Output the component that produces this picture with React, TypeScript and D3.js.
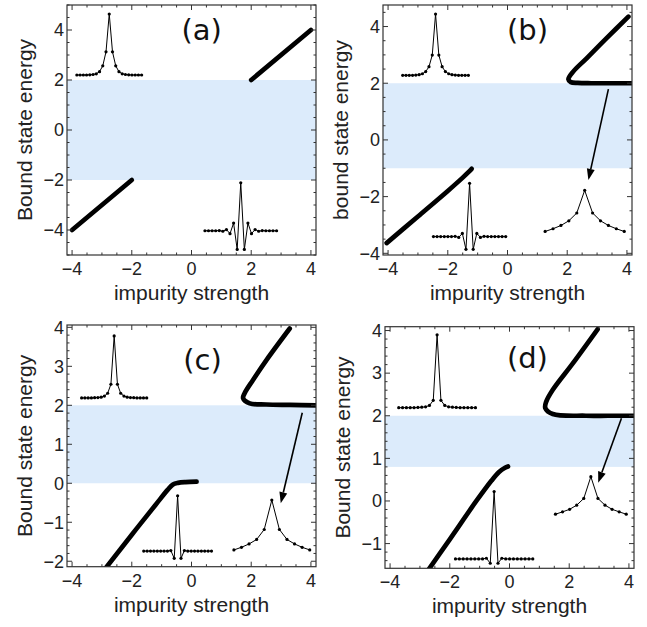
import * as d3 from 'd3';

// ---- data ----
const xMajor = [-4, -2, 0, 2, 4];
const yMajorAB = [-4, -2, 0, 2, 4];
const yMajorC = [-2, -1, 0, 1, 2, 3, 4];
const yMajorD = [-1, 0, 1, 2, 3, 4];

// continuum bands [lower, upper]
const bandA = [-2, 2];
const bandB = [-1, 2];
const bandC = [0, 2];
const bandD = [0.8, 2];

// bound state branches
const aLowX = [-4, -2];
const aLowY = [-4, -2];
const aUpX = [2, 4];
const aUpY = [2, 4];

const bLowX = [-4.05, -3, -2, -1.5, -1.3, -1.2];
const bLowY = [-3.64, -2.7, -1.8, -1.33, -1.13, -1.02];
const bUpX = [4.05, 3.32, 2.65, 2.2, 2.04, 2.12, 2.35, 2.8, 3.4, 4.2];
const bUpY = [4.35, 3.59, 2.88, 2.41, 2.14, 2.04, 2.01, 2.0, 2.0, 2.0];

const cLowX = [-2.95, -2, -1.2, -0.8, -0.62, -0.45, -0.2, 0.17];
const cLowY = [-2.25, -1.32, -0.55, -0.17, -0.03, 0.01, 0.03, 0.04];
const cUpX = [3.29, 2.51, 2.06, 1.78, 1.73, 1.95, 2.5, 3.3, 4.2];
const cUpY = [3.97, 3.16, 2.65, 2.31, 2.18, 2.05, 2.02, 2.01, 2.0];

const dLowX = [-2.85, -2, -1.11, -0.6, -0.35, -0.15, -0.05];
const dLowY = [-1.75, -0.9, 0, 0.48, 0.68, 0.78, 0.81];
const dUpX = [2.95, 2.12, 1.45, 1.23, 1.2, 1.45, 2.56, 3.3, 4.2];
const dUpY = [4.03, 3.23, 2.61, 2.33, 2.18, 2.04, 2.0, 2.0, 2.0];

// wavefunction insets (site amplitudes, peak = 1)
const psiA1 = [0, 0, 0, 0, 0.003, 0.008, 0.02, 0.055, 0.15, 0.38, 1, 0.38, 0.15, 0.055, 0.02, 0.008, 0.003, 0, 0, 0, 0];
const psiA2 = [0, 0, 0, 0, 0.004, -0.01, 0.025, -0.06, 0.16, -0.39, 1, -0.39, 0.16, -0.06, 0.025, -0.01, 0.004, 0, 0, 0, 0];
const psiB1 = [0, 0, 0, 0, 0.004, 0.01, 0.025, 0.06, 0.14, 0.33, 1, 0.33, 0.14, 0.06, 0.025, 0.01, 0.004, 0, 0, 0, 0];
const psiB2 = [0, 0, 0, 0, 0, 0, 0.004, -0.015, 0.06, -0.24, 1, -0.24, 0.06, -0.015, 0.004, 0, 0, 0, 0, 0, 0];
const psiB3 = [0, 0.066, 0.146, 0.26, 0.45, 1, 0.45, 0.26, 0.146, 0.066, 0];
const psiC1 = [0, 0, 0, 0, 0.003, 0.006, 0.012, 0.03, 0.075, 0.22, 1, 0.22, 0.075, 0.03, 0.012, 0.006, 0.003, 0, 0, 0, 0];
const psiC2 = [0, 0, 0, 0, 0, 0, 0, 0, 0.01, -0.13, 1, -0.13, 0.01, 0, 0, 0, 0, 0, 0, 0, 0];
const psiC3 = [0, 0.053, 0.12, 0.21, 0.41, 1, 0.41, 0.21, 0.12, 0.053, 0];
const psiD1 = [0, 0, 0, 0, 0, 0.003, 0.006, 0.012, 0.03, 0.1, 1, 0.1, 0.03, 0.012, 0.006, 0.003, 0, 0, 0, 0, 0];
const psiD2 = [0, 0, 0, 0, 0, 0, 0, 0, 0.01, -0.064, 1, -0.064, 0.01, 0, 0, 0, 0, 0, 0, 0, 0];
const psiD3 = [0, 0.062, 0.13, 0.24, 0.42, 1, 0.42, 0.24, 0.13, 0.062, 0];

const xTitle = 'impurity strength';

// ---- layout ----
const panels = [
  {
    key: 'a', label: '(a)', labelAt: [0.34, 3.6], yTitle: 'Bound state energy',
    frame: [67, 316, 5, 255], yDomain: [-5, 5], yMajor: yMajorAB, yMinor: 20,
    band: bandA, curves: [[aLowX, aLowY], [aUpX, aUpY]],
    insets: [
      { psi: psiA1, x: [-3.84, -1.67], base: 2.2, amp: 2.44 },
      { psi: psiA2, x: [0.45, 2.85], base: -4.03, amp: 1.92 },
    ],
    arrow: null,
  },
  {
    key: 'b', label: '(b)', labelAt: [0.67, 3.53], yTitle: 'bound state energy',
    frame: [383, 632, 5, 255], yDomain: [-4.06, 4.76], yMajor: yMajorAB, yMinor: 20,
    band: bandB, curves: [[bLowX, bLowY], [bUpX, bUpY]],
    insets: [
      { psi: psiB1, x: [-3.51, -1.31], base: 2.28, amp: 2.16 },
      { psi: psiB2, x: [-2.48, -0.06], base: -3.41, amp: 1.88 },
      { psi: psiB3, x: [1.26, 3.91], base: -3.23, amp: 1.45 },
    ],
    arrow: [[3.38, 1.79], [2.71, -1.41]],
  },
  {
    key: 'c', label: '(c)', labelAt: [0.37, 2.9], yTitle: 'Bound state energy',
    frame: [67, 316, 325, 566.7], yDomain: [-2.14, 4.06], yMajor: yMajorC, yMinor: 30,
    band: bandC, curves: [[cLowX, cLowY], [cUpX, cUpY]],
    insets: [
      { psi: psiC1, x: [-3.68, -1.5], base: 2.19, amp: 1.59 },
      { psi: psiC2, x: [-1.6, 0.67], base: -1.74, amp: 1.42 },
      { psi: psiC3, x: [1.42, 3.96], base: -1.71, amp: 1.28 },
    ],
    arrow: [[3.71, 1.81], [2.99, -0.51]],
  },
  {
    key: 'd', label: '(d)', labelAt: [0.6, 3.12], yTitle: 'Bound state energy',
    frame: [385, 634, 326.7, 568.3], yDomain: [-1.58, 4.09], yMajor: yMajorD, yMinor: 30,
    band: bandD, curves: [[dLowX, dLowY], [dUpX, dUpY]],
    insets: [
      { psi: psiD1, x: [-3.71, -1.14], base: 2.19, amp: 1.71 },
      { psi: psiD2, x: [-1.81, 0.78], base: -1.36, amp: 1.58 },
      { psi: psiD3, x: [1.54, 3.91], base: -0.31, amp: 0.88 },
    ],
    arrow: [[3.75, 1.94], [2.97, 0.43]],
  },
];

const FONT = '"Liberation Sans", Arial, Helvetica, sans-serif';
const fmt = d3.format('d');

function Panel({ p }: { p: any }) {
  const [l, r, t, b] = p.frame;
  const x = d3.scaleLinear().domain([-4.17, 4.17]).range([l, r]);
  const y = d3.scaleLinear().domain(p.yDomain).range([b, t]);
  const clipId = 'clip-' + p.key;

  const xMinor = x.ticks(20).filter((v: number) => !xMajor.includes(v));
  const yMinor = y.ticks(p.yMinor).filter((v: number) => !p.yMajor.includes(v));

  const curve = d3
    .line<[number, number]>()
    .x((d) => x(d[0]))
    .y((d) => y(d[1]))
    .curve(d3.curveCatmullRom.alpha(0.5));

  const majorLen = 5;
  const minorLen = 2.5;

  let arrowEl = null;
  if (p.arrow) {
    const [a0, a1] = p.arrow;
    const x0 = x(a0[0]), y0 = y(a0[1]);
    const x1 = x(a1[0]), y1 = y(a1[1]);
    const ang = Math.atan2(y1 - y0, x1 - x0);
    const hl = 11, hw = 4;
    const bx = x1 - hl * Math.cos(ang), by = y1 - hl * Math.sin(ang);
    const px = -Math.sin(ang) * hw, py = Math.cos(ang) * hw;
    arrowEl = (
      <g>
        <line x1={x0} y1={y0} x2={bx} y2={by} stroke="#000" strokeWidth={1.6} />
        <polygon points={`${x1},${y1} ${bx + px},${by + py} ${bx - px},${by - py}`} fill="#000" />
      </g>
    );
  }

  return (
    <g>
      <defs>
        <clipPath id={clipId}>
          <rect x={l} y={t} width={r - l} height={b - t} />
        </clipPath>
      </defs>
      <rect
        x={l}
        y={y(p.band[1])}
        width={r - l}
        height={y(p.band[0]) - y(p.band[1])}
        fill="#dcebfb"
      />
      <g clipPath={`url(#${clipId})`}>
        {p.curves.map((c: number[][], i: number) => (
          <path
            key={i}
            d={curve(c[0].map((v, k) => [v, c[1][k]] as [number, number])) || ''}
            fill="none"
            stroke="#000"
            strokeWidth={4.7}
            strokeLinecap="round"
          />
        ))}
      </g>
      {p.insets.map((ins: any, i: number) => {
        const ix = d3.scaleLinear().domain([0, ins.psi.length - 1]).range([x(ins.x[0]), x(ins.x[1])]);
        const iy = (v: number) => y(ins.base + ins.amp * v);
        const ln = d3
          .line<number>()
          .x((_, k) => ix(k))
          .y((v) => iy(v));
        return (
          <g key={i}>
            <path d={ln(ins.psi) || ''} fill="none" stroke="#000" strokeWidth={1} />
            {ins.psi.map((v: number, k: number) => (
              <circle key={k} cx={ix(k)} cy={iy(v)} r={1.6} fill="#000" />
            ))}
          </g>
        );
      })}
      {arrowEl}
      {/* frame ticks, inward on all sides */}
      <g stroke="#333" strokeWidth={1}>
        {xMajor.map((v) => (
          <g key={'xm' + v}>
            <line x1={x(v)} x2={x(v)} y1={b} y2={b - majorLen} />
            <line x1={x(v)} x2={x(v)} y1={t} y2={t + majorLen} />
          </g>
        ))}
        {xMinor.map((v: number) => (
          <g key={'xn' + v}>
            <line x1={x(v)} x2={x(v)} y1={b} y2={b - minorLen} />
            <line x1={x(v)} x2={x(v)} y1={t} y2={t + minorLen} />
          </g>
        ))}
        {p.yMajor.map((v: number) => (
          <g key={'ym' + v}>
            <line x1={l} x2={l + majorLen} y1={y(v)} y2={y(v)} />
            <line x1={r} x2={r - majorLen} y1={y(v)} y2={y(v)} />
          </g>
        ))}
        {yMinor.map((v: number) => (
          <g key={'yn' + v}>
            <line x1={l} x2={l + minorLen} y1={y(v)} y2={y(v)} />
            <line x1={r} x2={r - minorLen} y1={y(v)} y2={y(v)} />
          </g>
        ))}
      </g>
      <rect x={l} y={t} width={r - l} height={b - t} fill="none" stroke="#333" strokeWidth={1.2} />
      <g fontFamily={FONT} fontSize={18} fill="#222">
        {xMajor.map((v) => (
          <text key={'xl' + v} x={x(v)} y={b + 20} textAnchor="middle">
            {fmt(v)}
          </text>
        ))}
        {p.yMajor.map((v: number) => (
          <text key={'yl' + v} x={l - 3} y={y(v)} dy="0.35em" textAnchor="end">
            {fmt(v)}
          </text>
        ))}
      </g>
      <text
        x={(l + r) / 2}
        y={b + 45}
        textAnchor="middle"
        fontFamily={FONT}
        fontSize={21}
        fill="#222"
      >
        {xTitle}
      </text>
      <text
        transform={`translate(${l - 42},${(t + b) / 2}) rotate(-90)`}
        textAnchor="middle"
        dy="0.35em"
        fontFamily={FONT}
        fontSize={21}
        fill="#222"
      >
        {p.yTitle}
      </text>
      <text
        x={x(p.labelAt[0])}
        y={y(p.labelAt[1])}
        textAnchor="middle"
        fontFamily='"DejaVu Sans", sans-serif'
        fontSize={29}
        fill="#111"
      >
        {p.label}
      </text>
    </g>
  );
}

export default function App() {
  return (
    <svg
      width={647}
      height={627}
      viewBox="0 0 647 627"
      style={{ position: 'absolute', left: 0, top: 0, background: '#fff' }}
    >
      {panels.map((p) => (
        <Panel key={p.key} p={p} />
      ))}
    </svg>
  );
}
